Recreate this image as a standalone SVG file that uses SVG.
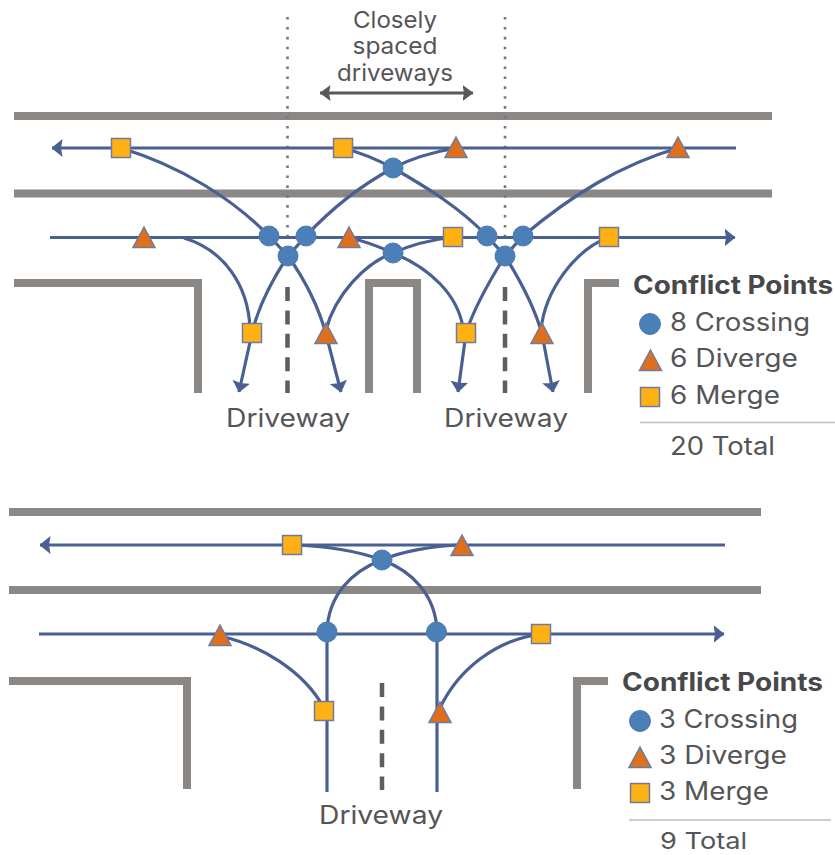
<svg xmlns="http://www.w3.org/2000/svg" width="835" height="855" viewBox="0 0 835 855">
<style>
.road{fill:none;stroke:#8b8785;stroke-width:8}
.dot{fill:none;stroke:#77777a;stroke-width:2.6;stroke-dasharray:2.6 7.3}
.dash{fill:none;stroke:#5e5e60;stroke-width:4.5;stroke-dasharray:14 9.4}
.lane{fill:none;stroke:#4a5f92;stroke-width:3.200}
.c{fill:#4a80b7;stroke:#5078ab;stroke-width:1}
.t{fill:#e06f1b;stroke:#6d7ba3;stroke-width:1.5}
.s{fill:#ffb012;stroke:#6d7ba3;stroke-width:1.5}
text{font-family:"Inter","Liberation Sans",sans-serif;fill:#555557;font-size:25px}
.mid{text-anchor:middle;font-size:23px}
.b{font-weight:700;fill:#48484a;font-size:25px}
</style>
<defs>
<marker id="a" viewBox="0 0 11 18" refX="10.500" refY="9" markerWidth="11" markerHeight="18" markerUnits="userSpaceOnUse" orient="auto"><path d="M0 0L11 9L0 18L1.500 9Z" fill="#4a5f92"/></marker>
<marker id="g" viewBox="0 0 11 16" refX="10.500" refY="8" markerWidth="11" markerHeight="16" markerUnits="userSpaceOnUse" orient="auto-start-reverse"><path d="M0 0L11 8L0 16L1.500 8Z" fill="#595959"/></marker>
<g id="sq"><rect class="s" x="-9.5" y="-9.5" width="19" height="19"/></g>
<g id="tr"><path class="t" d="M0-11L11 9.5H-11Z"/></g>
</defs>
<g id="roads">
<path class="road" d="M14 116H772M14 193.500H772M14 283H198V393M369 393V283H417V393M619 283H588V393"/>
<path class="road" d="M9 512H761M9 590H761M9 681H187V789M608 681H577V789"/>
</g>
<g id="guides">
<path class="dot" d="M287.500 17V236M505 17V236"/>
<path class="dash" d="M287.500 287V393M505 287V393M382 683V790"/>
<path d="M320 93H473" fill="none" stroke="#595959" stroke-width="3" marker-start="url(#g)" marker-end="url(#g)"/>
</g>
<g id="connectors">
<path class="lane" d="M736 148H52" marker-end="url(#a)"/>
<path class="lane" d="M50 237.500H735" marker-end="url(#a)"/>
<path class="lane" d="M121 148C180 166 232 198 269 236L288 256C305 280 318 305 326 334L341 392" marker-end="url(#a)"/>
<path class="lane" d="M343 148C362 153 378 160 393 168C428 188 460 208 487 236L505 256C520 280 534 305 542 334L553 392" marker-end="url(#a)"/>
<path class="lane" d="M456 148C433 152 412 158 393 168C360 186 330 210 306 236L288 256C272 280 258 308 252 333L239 392" marker-end="url(#a)"/>
<path class="lane" d="M678 148C620 165 572 195 523 236L505 256C490 280 474 308 466 333L458 392" marker-end="url(#a)"/>
<path class="lane" d="M184 238C224 250 248 285 250 328"/>
<path class="lane" d="M349 238C365 241 380 247 393 253C430 268 458 295 463 328"/>
<path class="lane" d="M326 330C335 295 365 263 393 253C410 245 430 240 453 237"/>
<path class="lane" d="M541 330C545 290 575 250 609 237"/>
<path class="lane" d="M725 545H40" marker-end="url(#a)"/>
<path class="lane" d="M39 634H724" marker-end="url(#a)"/>
<path class="lane" d="M292 545C330 546 360 552 382 560C412 571 436 595 437 632V792"/>
<path class="lane" d="M462 545C430 546 400 552 382 560C352 571 328 595 327 632V792"/>
<path class="lane" d="M220 636C260 645 303 670 324 708"/>
<path class="lane" d="M541 634C495 640 458 670 440 708"/>
</g>
<g id="n1"><use href="#sq" x="121" y="148"/></g>
<g id="n2"><use href="#sq" x="343" y="148"/></g>
<g id="n3"><use href="#tr" x="456" y="148"/></g>
<g id="n4"><use href="#tr" x="678" y="148"/></g>
<g id="n5"><circle class="c" cx="393" cy="168" r="10"/></g>
<g id="n6"><circle class="c" cx="269" cy="236" r="10"/></g>
<g id="n7"><circle class="c" cx="306" cy="236" r="10"/></g>
<g id="n8"><circle class="c" cx="288" cy="256" r="10"/></g>
<g id="n9"><circle class="c" cx="393" cy="253" r="10"/></g>
<g id="n10"><circle class="c" cx="487" cy="236" r="10"/></g>
<g id="n11"><circle class="c" cx="523" cy="236" r="10"/></g>
<g id="n12"><circle class="c" cx="505" cy="256" r="10"/></g>
<g id="n13"><use href="#tr" x="144" y="238"/></g>
<g id="n14"><use href="#tr" x="349" y="238"/></g>
<g id="n15"><use href="#sq" x="453" y="237"/></g>
<g id="n16"><use href="#sq" x="609" y="237"/></g>
<g id="n17"><use href="#sq" x="252" y="333"/></g>
<g id="n18"><use href="#tr" x="326" y="334"/></g>
<g id="n19"><use href="#sq" x="466" y="333"/></g>
<g id="n20"><use href="#tr" x="542" y="334"/></g>
<g id="n21"><use href="#sq" x="292" y="545"/></g>
<g id="n22"><use href="#tr" x="462" y="546"/></g>
<g id="n23"><circle class="c" cx="382" cy="560" r="10"/></g>
<g id="n24"><circle class="c" cx="327" cy="632" r="10"/></g>
<g id="n25"><circle class="c" cx="436.500" cy="632" r="10"/></g>
<g id="n26"><use href="#tr" x="220" y="636"/></g>
<g id="n27"><use href="#sq" x="541" y="634"/></g>
<g id="n28"><use href="#sq" x="324" y="711"/></g>
<g id="n29"><use href="#tr" x="440" y="713"/></g>
<g id="labels1">
<text class="mid" x="395" y="28" textLength="84" lengthAdjust="spacingAndGlyphs">Closely</text>
<text class="mid" x="395" y="54" textLength="85" lengthAdjust="spacingAndGlyphs">spaced</text>
<text class="mid" x="395" y="81" textLength="116" lengthAdjust="spacingAndGlyphs">driveways</text>
<text x="226" y="427" textLength="124" lengthAdjust="spacingAndGlyphs">Driveway</text>
<text x="444" y="427" textLength="124" lengthAdjust="spacingAndGlyphs">Driveway</text>
<text class="b" x="633" y="294" textLength="200" lengthAdjust="spacingAndGlyphs">Conflict Points</text>
</g>
<g id="legend1">
<circle class="c" cx="650" cy="324" r="10.500"/>
<use href="#tr" x="650.500" y="361"/>
<use href="#sq" x="650" y="397"/>
<text x="670" y="331" textLength="140" lengthAdjust="spacingAndGlyphs">8 Crossing</text>
<text x="670" y="367" textLength="128" lengthAdjust="spacingAndGlyphs">6 Diverge</text>
<text x="670" y="404" textLength="110" lengthAdjust="spacingAndGlyphs">6 Merge</text>
<path d="M640 422.500H835" stroke="#bdbdbd" stroke-width="1.500"/>
<text x="670" y="455" textLength="105" lengthAdjust="spacingAndGlyphs">20 Total</text>
</g>
<g id="labels2">
<text x="319" y="824" textLength="124" lengthAdjust="spacingAndGlyphs">Driveway</text>
<text class="b" x="622" y="691" textLength="201" lengthAdjust="spacingAndGlyphs">Conflict Points</text>
</g>
<g id="legend2">
<circle class="c" cx="640" cy="721" r="10.500"/>
<use href="#tr" x="640" y="758"/>
<use href="#sq" x="640" y="793"/>
<text x="659" y="728" textLength="139" lengthAdjust="spacingAndGlyphs">3 Crossing</text>
<text x="659" y="764" textLength="128" lengthAdjust="spacingAndGlyphs">3 Diverge</text>
<text x="659" y="800" textLength="110" lengthAdjust="spacingAndGlyphs">3 Merge</text>
<path d="M629 820H831" stroke="#bdbdbd" stroke-width="1.500"/>
<text x="660" y="849" textLength="87" lengthAdjust="spacingAndGlyphs" style="font-size:23px">9 Total</text>
</g>
</svg>
